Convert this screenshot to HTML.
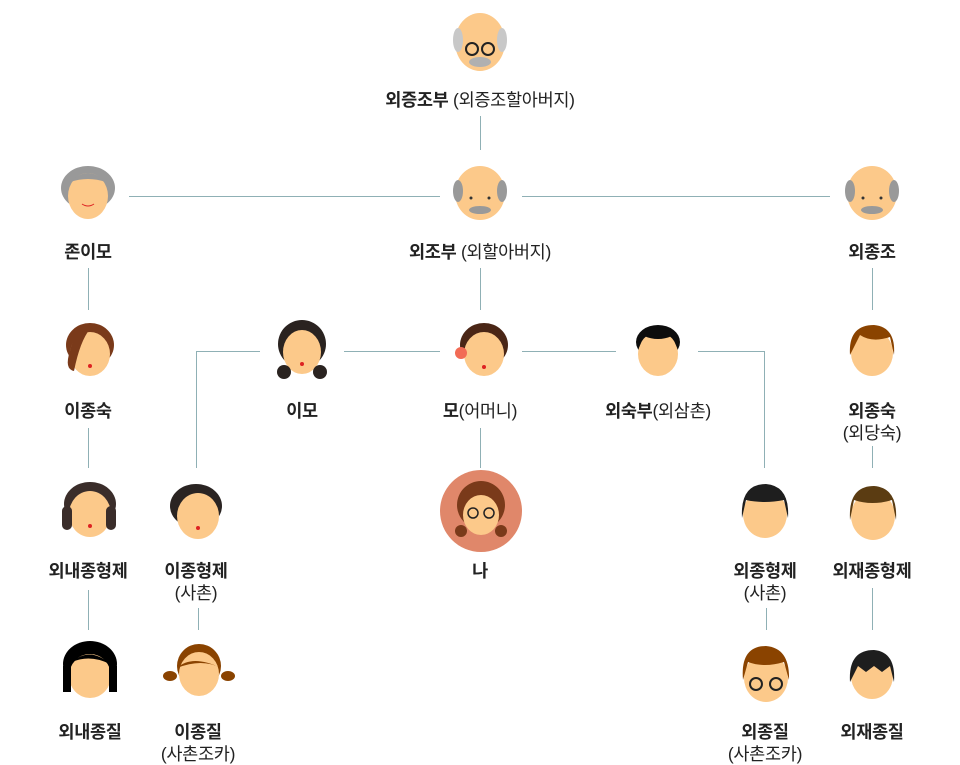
<!DOCTYPE html>
<html><head><meta charset="utf-8"><style>
body{margin:0;width:960px;height:762px;background:#fff;position:relative;overflow:hidden;font-family:"Liberation Sans","Noto Sans CJK KR",sans-serif;color:#222}
.l{position:absolute;background:#8fb0b5}
.t{position:absolute;width:240px;text-align:center;font-size:17.5px;line-height:22px;transform:translateX(-120px);letter-spacing:-0.3px}
.t b{font-weight:bold}
svg{position:absolute}
</style></head><body>
<div class="l" style="left:480px;top:116px;width:1px;height:34px"></div>
<div class="l" style="left:129px;top:196px;width:311px;height:1px"></div>
<div class="l" style="left:522px;top:196px;width:308px;height:1px"></div>
<div class="l" style="left:88px;top:268px;width:1px;height:42px"></div>
<div class="l" style="left:480px;top:268px;width:1px;height:42px"></div>
<div class="l" style="left:872px;top:268px;width:1px;height:42px"></div>
<div class="l" style="left:196px;top:351px;width:64px;height:1px"></div>
<div class="l" style="left:196px;top:351px;width:1px;height:117px"></div>
<div class="l" style="left:344px;top:351px;width:96px;height:1px"></div>
<div class="l" style="left:522px;top:351px;width:94px;height:1px"></div>
<div class="l" style="left:698px;top:351px;width:66px;height:1px"></div>
<div class="l" style="left:764px;top:351px;width:1px;height:117px"></div>
<div class="l" style="left:88px;top:428px;width:1px;height:40px"></div>
<div class="l" style="left:480px;top:428px;width:1px;height:40px"></div>
<div class="l" style="left:872px;top:446px;width:1px;height:22px"></div>
<div class="l" style="left:88px;top:590px;width:1px;height:40px"></div>
<div class="l" style="left:198px;top:608px;width:1px;height:22px"></div>
<div class="l" style="left:766px;top:608px;width:1px;height:22px"></div>
<div class="l" style="left:872px;top:588px;width:1px;height:42px"></div>

<svg style="left:452px;top:12px" width="56" height="60"><ellipse cx="28" cy="30" rx="25" ry="29" fill="#fcc98a"/><ellipse cx="6" cy="28" rx="5" ry="12" fill="#c8c8c8"/><ellipse cx="50" cy="28" rx="5" ry="12" fill="#c8c8c8"/><circle cx="20" cy="37" r="6" fill="none" stroke="#222" stroke-width="2"/><circle cx="36" cy="37" r="6" fill="none" stroke="#222" stroke-width="2"/><ellipse cx="28" cy="50" rx="11" ry="5" fill="#b0b0b0"/></svg>

<svg style="left:58px;top:164px" width="60" height="56"><ellipse cx="30" cy="24" rx="27" ry="22" fill="#999"/><ellipse cx="30" cy="32" rx="20" ry="23" fill="#fcc98a"/><path d="M12 18 Q30 0 48 18 Q30 12 12 18Z" fill="#999"/><path d="M24 40 Q30 44 36 40" stroke="#d22" fill="none"/></svg>
<svg style="left:452px;top:165px" width="56" height="56"><ellipse cx="28" cy="28" rx="25" ry="27" fill="#fcc98a"/><ellipse cx="6" cy="26" rx="5" ry="11" fill="#999"/><ellipse cx="50" cy="26" rx="5" ry="11" fill="#999"/><ellipse cx="28" cy="45" rx="11" ry="4" fill="#999"/><circle cx="19" cy="33" r="1.5" fill="#333"/><circle cx="37" cy="33" r="1.5" fill="#333"/></svg>
<svg style="left:844px;top:165px" width="56" height="56"><ellipse cx="28" cy="28" rx="25" ry="27" fill="#fcc98a"/><ellipse cx="6" cy="26" rx="5" ry="11" fill="#999"/><ellipse cx="50" cy="26" rx="5" ry="11" fill="#999"/><ellipse cx="28" cy="45" rx="11" ry="4" fill="#999"/><circle cx="19" cy="33" r="1.5" fill="#333"/><circle cx="37" cy="33" r="1.5" fill="#333"/></svg>

<svg style="left:60px;top:321px" width="56" height="56"><ellipse cx="30" cy="24" rx="24" ry="22" fill="#7a3a1a"/><ellipse cx="30" cy="33" rx="20" ry="22" fill="#fcc98a"/><path d="M10 30 Q14 10 30 8 Q20 20 14 50 Q4 48 10 30Z" fill="#7a3a1a"/><circle cx="30" cy="45" r="2" fill="#d22"/></svg>
<svg style="left:276px;top:320px" width="52" height="60"><ellipse cx="26" cy="24" rx="24" ry="24" fill="#2a2320"/><ellipse cx="26" cy="32" rx="19" ry="22" fill="#fcc98a"/><circle cx="8" cy="52" r="7" fill="#2a2320"/><circle cx="44" cy="52" r="7" fill="#2a2320"/><circle cx="26" cy="44" r="2" fill="#d22"/></svg>
<svg style="left:452px;top:321px" width="58" height="56"><ellipse cx="32" cy="24" rx="24" ry="22" fill="#4a2616"/><ellipse cx="32" cy="33" rx="20" ry="22" fill="#fcc98a"/><circle cx="9" cy="32" r="6" fill="#f26b55"/><circle cx="32" cy="46" r="2" fill="#d22"/></svg>
<svg style="left:632px;top:322px" width="52" height="56"><ellipse cx="26" cy="20" rx="22" ry="17" fill="#0d0d0d"/><ellipse cx="26" cy="32" rx="20" ry="22" fill="#fcc98a"/><path d="M6 28 Q6 4 30 6 Q46 8 46 28 L40 14 Q26 20 12 14Z" fill="#0d0d0d"/></svg>
<svg style="left:846px;top:321px" width="52" height="56"><ellipse cx="26" cy="32" rx="21" ry="23" fill="#fcc98a"/><path d="M4 34 Q2 4 28 4 Q50 6 48 34 L44 16 Q26 22 14 14 Z" fill="#8a4300"/></svg>

<svg style="left:56px;top:480px" width="66" height="60"><ellipse cx="34" cy="24" rx="26" ry="22" fill="#3a2d2a"/><ellipse cx="34" cy="34" rx="21" ry="23" fill="#fcc98a"/><rect x="6" y="26" width="10" height="24" rx="5" fill="#3a2d2a"/><rect x="50" y="26" width="10" height="24" rx="5" fill="#3a2d2a"/><circle cx="34" cy="46" r="2" fill="#d22"/></svg>
<svg style="left:168px;top:482px" width="58" height="60"><ellipse cx="28" cy="24" rx="26" ry="22" fill="#2a2422"/><ellipse cx="30" cy="34" rx="21" ry="23" fill="#fcc98a"/><circle cx="30" cy="46" r="2" fill="#d22"/></svg>
<svg style="left:439px;top:469px" width="84" height="84"><circle cx="42" cy="42" r="41" fill="#e0876a"/><ellipse cx="42" cy="36" rx="24" ry="24" fill="#7a3a1a"/><ellipse cx="42" cy="46" rx="18" ry="20" fill="#fcc98a"/><circle cx="34" cy="44" r="5" fill="none" stroke="#222" stroke-width="1.5"/><circle cx="50" cy="44" r="5" fill="none" stroke="#222" stroke-width="1.5"/><circle cx="22" cy="62" r="6" fill="#7a3a1a"/><circle cx="62" cy="62" r="6" fill="#7a3a1a"/></svg>
<svg style="left:738px;top:480px" width="54" height="60"><ellipse cx="27" cy="34" rx="22" ry="24" fill="#fcc98a"/><path d="M4 38 Q2 4 28 4 Q52 6 50 38 L46 20 Q26 24 8 20 Z" fill="#1e1e1e"/></svg>
<svg style="left:846px;top:480px" width="54" height="62"><ellipse cx="27" cy="36" rx="22" ry="24" fill="#fcc98a"/><path d="M4 40 Q2 6 28 6 Q52 8 50 40 L46 20 Q26 26 8 20 Z" fill="#5b3c12"/></svg>

<svg style="left:60px;top:640px" width="60" height="60"><ellipse cx="30" cy="24" rx="27" ry="23" fill="#000"/><ellipse cx="30" cy="36" rx="21" ry="22" fill="#fcc98a"/><rect x="3" y="26" width="8" height="26" fill="#000"/><rect x="49" y="26" width="8" height="26" fill="#000"/><path d="M12 22 Q30 6 50 24 Q30 14 12 22Z" fill="#000"/></svg>
<svg style="left:162px;top:640px" width="74" height="58"><ellipse cx="37" cy="26" rx="22" ry="22" fill="#8a4300"/><ellipse cx="37" cy="34" rx="20" ry="22" fill="#fcc98a"/><path d="M15 28 Q30 14 59 28 Q40 18 15 28Z" fill="#8a4300"/><ellipse cx="8" cy="36" rx="7" ry="5" fill="#8a4300"/><ellipse cx="66" cy="36" rx="7" ry="5" fill="#8a4300"/></svg>
<svg style="left:738px;top:640px" width="56" height="64"><ellipse cx="28" cy="38" rx="22" ry="24" fill="#fcc98a"/><path d="M5 40 Q2 6 28 6 Q52 8 51 40 L46 22 Q26 28 10 22 Z" fill="#8a4300"/><circle cx="18" cy="44" r="6" fill="none" stroke="#222" stroke-width="2"/><circle cx="38" cy="44" r="6" fill="none" stroke="#222" stroke-width="2"/></svg>
<svg style="left:846px;top:646px" width="52" height="56"><ellipse cx="26" cy="30" rx="21" ry="23" fill="#fcc98a"/><path d="M4 36 Q2 4 28 4 Q50 6 48 36 L44 20 L36 26 L28 20 L20 26 L12 20 Z" fill="#1e1e1e"/></svg>

<div class="t" style="left:480px;top:89px"><b>외증조부</b> (외증조할아버지)</div>
<div class="t" style="left:88px;top:241px"><b>존이모</b></div>
<div class="t" style="left:480px;top:241px"><b>외조부</b> (외할아버지)</div>
<div class="t" style="left:872px;top:241px"><b>외종조</b></div>
<div class="t" style="left:88px;top:400px"><b>이종숙</b></div>
<div class="t" style="left:302px;top:400px"><b>이모</b></div>
<div class="t" style="left:480px;top:400px"><b>모</b>(어머니)</div>
<div class="t" style="left:658px;top:400px"><b>외숙부</b>(외삼촌)</div>
<div class="t" style="left:872px;top:400px"><b>외종숙</b><br>(외당숙)</div>
<div class="t" style="left:88px;top:560px"><b>외내종형제</b></div>
<div class="t" style="left:196px;top:560px"><b>이종형제</b><br>(사촌)</div>
<div class="t" style="left:480px;top:560px"><b>나</b></div>
<div class="t" style="left:765px;top:560px"><b>외종형제</b><br>(사촌)</div>
<div class="t" style="left:872px;top:560px"><b>외재종형제</b></div>
<div class="t" style="left:90px;top:721px"><b>외내종질</b></div>
<div class="t" style="left:198px;top:721px"><b>이종질</b><br>(사촌조카)</div>
<div class="t" style="left:765px;top:721px"><b>외종질</b><br>(사촌조카)</div>
<div class="t" style="left:872px;top:721px"><b>외재종질</b></div>
</body></html>
